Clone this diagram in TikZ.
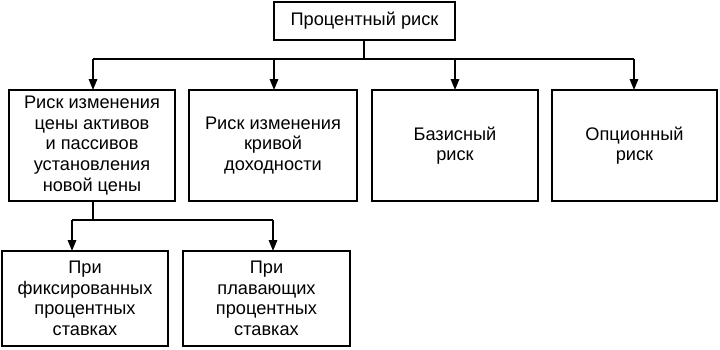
\documentclass[tikz,border=0pt]{standalone}
\usepackage{fontspec}
\setmainfont{Liberation Sans}
\usetikzlibrary{arrows.meta}
\begin{document}
\begin{tikzpicture}[x=1pt,y=-1pt,
  box/.style={draw,line width=1.5pt,inner sep=0pt,outer sep=0pt,align=center,
    font=\fontsize{18.2}{20.6}\selectfont},
  link/.style={line width=1.5pt},
  arr/.style={line width=1.5pt,-{Triangle[length=11pt,width=8.5pt]}}]
\useasboundingbox (0,0) rectangle (720,349);
\node[box,minimum width=181pt,minimum height=38pt] (top) at (364.5,21) {Процентный риск};
\node[box,minimum width=166pt,minimum height=111pt] (b1) at (92,145.5) {Риск изменения\\цены активов\\и пассивов\\установления\\новой цены};
\node[box,minimum width=168pt,minimum height=111pt] (b2) at (273,145.5) {Риск изменения\\кривой\\доходности};
\node[box,minimum width=166pt,minimum height=111pt] (b3) at (455,145.5) {Базисный\\риск};
\node[box,minimum width=165pt,minimum height=111pt] (b4) at (634.5,145.5) {Опционный\\риск};
\node[box,minimum width=166pt,minimum height=95pt] (b5) at (85,298.5) {При\\фиксированных\\процентных\\ставках};
\node[box,minimum width=167pt,minimum height=95pt] (b6) at (266.5,298.5) {При\\плавающих\\процентных\\ставках};
% connector coordinates
\coordinate (j1) at (364,59);
\coordinate (a1) at (93,59);
\coordinate (a2) at (274,59);
\coordinate (a3) at (455,59);
\coordinate (a4) at (634,59);
\coordinate (j2) at (93,220);
\coordinate (a5) at (72,220);
\coordinate (a6) at (273,220);
\draw[link] (j1 |- top.south) -- (j1);
\draw[link] (a1) -- (a4);
\draw[arr] (a1) -- (a1 |- b1.north);
\draw[arr] (a2) -- (a2 |- b2.north);
\draw[arr] (a3) -- (a3 |- b3.north);
\draw[arr] (a4) -- (a4 |- b4.north);
\draw[link] (b1.south -| j2) -- (j2);
\draw[link] (a5) -- (a6);
\draw[arr] (a5) -- (a5 |- b5.north);
\draw[arr] (a6) -- (a6 |- b6.north);
\end{tikzpicture}
\end{document}
